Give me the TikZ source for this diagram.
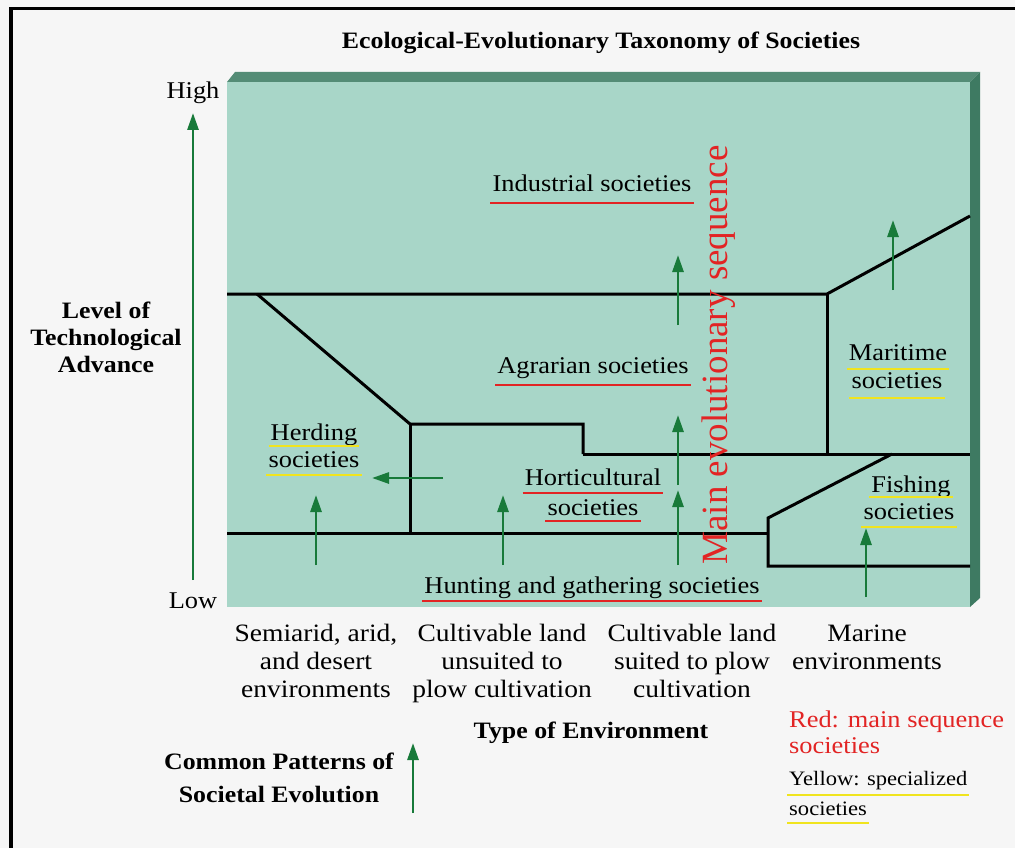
\documentclass[tikz,border=0pt]{standalone}
\usepackage{fontspec}
\setmainfont{Liberation Serif}[FakeStretch=1.1]
\newfontfamily\tallserif{Liberation Serif}
\usetikzlibrary{arrows.meta,calc}

\definecolor{paper}{RGB}{246,246,246}
\definecolor{face}{RGB}{168,214,200}
\definecolor{bevtop}{RGB}{84,140,118}
\definecolor{bevside}{RGB}{62,122,98}
\definecolor{evogreen}{RGB}{24,122,58}
\definecolor{mainred}{RGB}{226,36,36}
\definecolor{specyellow}{RGB}{240,228,30}

\tikzset{
  border/.style={line width=3pt, line join=miter},
  evo/.style={line width=2.8pt, draw=evogreen, -{Triangle[length=17pt,width=11pt]}},
  lbl/.style={inner sep=0pt, anchor=base, font=\fontsize{24}{28}\selectfont},
  env/.style={inner sep=0pt, anchor=base, align=center, font=\fontsize{25}{28}\selectfont},
  axislbl/.style={inner sep=0pt, anchor=base, align=center, font=\bfseries\fontsize{23.5}{27}\selectfont},
  redul/.style={draw=mainred, line width=2.8pt},
  yelul/.style={draw=specyellow, line width=2.8pt},
}
% underline a text node: #1 node, #2 style, #3 drop below the baseline
\newcommand\underl[3]{\draw[#2] ($(#1.base west)+(-2,#3)$) -- ($(#1.base east)+(2,#3)$);}

\begin{document}
\begin{tikzpicture}[x=1pt,y=-1pt]
\useasboundingbox (0,0) rectangle (1015,848);
\fill[paper] (0,0) rectangle (1015,848);
% frame bars
\fill[black] (9,7) rectangle (13,848);
\fill[black] (9,7) rectangle (1015,10);

% raised panel
\fill[bevtop] (227,82) -- (235,72) -- (980,72) -- (970,82) -- cycle;
\fill[bevside] (970,82) -- (980,72) -- (980,598) -- (970,607) -- cycle;
\fill[face] (227,82) rectangle (970,607);

% region boundaries
\draw[border] (227,294) -- (827,294) -- (970,216);
\draw[border] (827,294) -- (827,454);
\draw[border] (583,454) -- (970,454);
\draw[border] (257,294) -- (410,424) -- (583,424) -- (583,454);
\draw[border] (410,424) -- (410,533);
\draw[border] (227,533) -- (768,533);
\draw[border] (892,454) -- (768,518) -- (768,566) -- (970,566);

% title and axes (multi-line nodes sit on their last baseline)
\node[axislbl] (title) at (601,49) {Ecological-Evolutionary Taxonomy of Societies};
\node[lbl] (high) at (193,99) {High};
\node[lbl] (low) at (193,608) {Low};
\node[axislbl] (level) at (106,372) {Level of\\Technological\\Advance};
\coordinate (axisfoot) at (193,580);
\coordinate (axishead) at (193,113);
\draw[evo] (axisfoot) -- (axishead);

% societies
\node[lbl] (ind) at (592,192) {Industrial societies};
\node[lbl] (agr) at (593,373) {Agrarian societies};
\node[lbl] (hort1) at (593,485) {Horticultural};
\node[lbl] (hort2) at (593,515) {societies};
\node[lbl] (hunt) at (592,593) {Hunting and gathering societies};
\node[lbl] (herd1) at (314,440) {Herding};
\node[lbl] (herd2) at (314,467) {societies};
\node[lbl] (mar1) at (898,360) {Maritime};
\node[lbl] (mar2) at (897,388) {societies};
\node[lbl] (fish1) at (911,492) {Fishing};
\node[lbl] (fish2) at (909,519) {societies};

\underl{ind}{redul}{11}
\underl{agr}{redul}{12}
\underl{hort1}{redul}{8}
\underl{hort2}{redul}{6}
\underl{hunt}{redul}{8}
\underl{herd1}{yelul}{6}
\underl{herd2}{yelul}{8}
\underl{mar1}{yelul}{9}
\underl{mar2}{yelul}{10}
\underl{fish1}{yelul}{5}
\underl{fish2}{yelul}{8}

\node[rotate=90, inner sep=0pt, text=mainred, font=\tallserif\fontsize{37}{40}\selectfont] (mainseq) at (719,355) {Main evolutionary sequence};

% patterns of evolution
\coordinate (a1s) at (678,325); \coordinate (a1e) at (678,255);
\coordinate (a2s) at (678,485); \coordinate (a2e) at (678,415);
\coordinate (a3s) at (678,565); \coordinate (a3e) at (678,490);
\coordinate (a4s) at (503,565); \coordinate (a4e) at (503,495);
\coordinate (a5s) at (316,565); \coordinate (a5e) at (316,495);
\coordinate (a6s) at (443,478); \coordinate (a6e) at (372,478);
\coordinate (a7s) at (893,290); \coordinate (a7e) at (893,220);
\coordinate (a8s) at (866,597); \coordinate (a8e) at (866,528);
\foreach \k in {1,...,8} \draw[evo] (a\k s) -- (a\k e);

% environments
\node[env] (semi) at (316,697) {Semiarid, arid,\\and desert\\environments};
\node[env] (unsuit) at (502,697) {Cultivable land\\unsuited to\\plow cultivation};
\node[env] (suit) at (692,697) {Cultivable land\\suited to plow\\cultivation};
\node[env] (marine) at (867,669) {Marine\\environments};
\node[axislbl] (typeenv) at (591,738) {Type of Environment};

% key
\node[axislbl, font=\bfseries\fontsize{23.5}{33}\selectfont] (common) at (279,802) {Common Patterns of\\Societal Evolution};
\coordinate (keyfoot) at (413,813);
\coordinate (keyhead) at (413,743);
\draw[evo] (keyfoot) -- (keyhead);

\node[lbl, anchor=base west, text=mainred] (red1) at (789,727) {Red: main sequence};
\node[lbl, anchor=base west, text=mainred] (red2) at (789,753) {societies};
\node[lbl, anchor=base west, font=\fontsize{20.5}{24}\selectfont] (yel1) at (789,785) {Yellow: specialized};
\node[lbl, anchor=base west, font=\fontsize{20.5}{24}\selectfont] (yel2) at (789,815) {societies};
\underl{yel1}{yelul}{10}
\underl{yel2}{yelul}{8}
\end{tikzpicture}
\end{document}
